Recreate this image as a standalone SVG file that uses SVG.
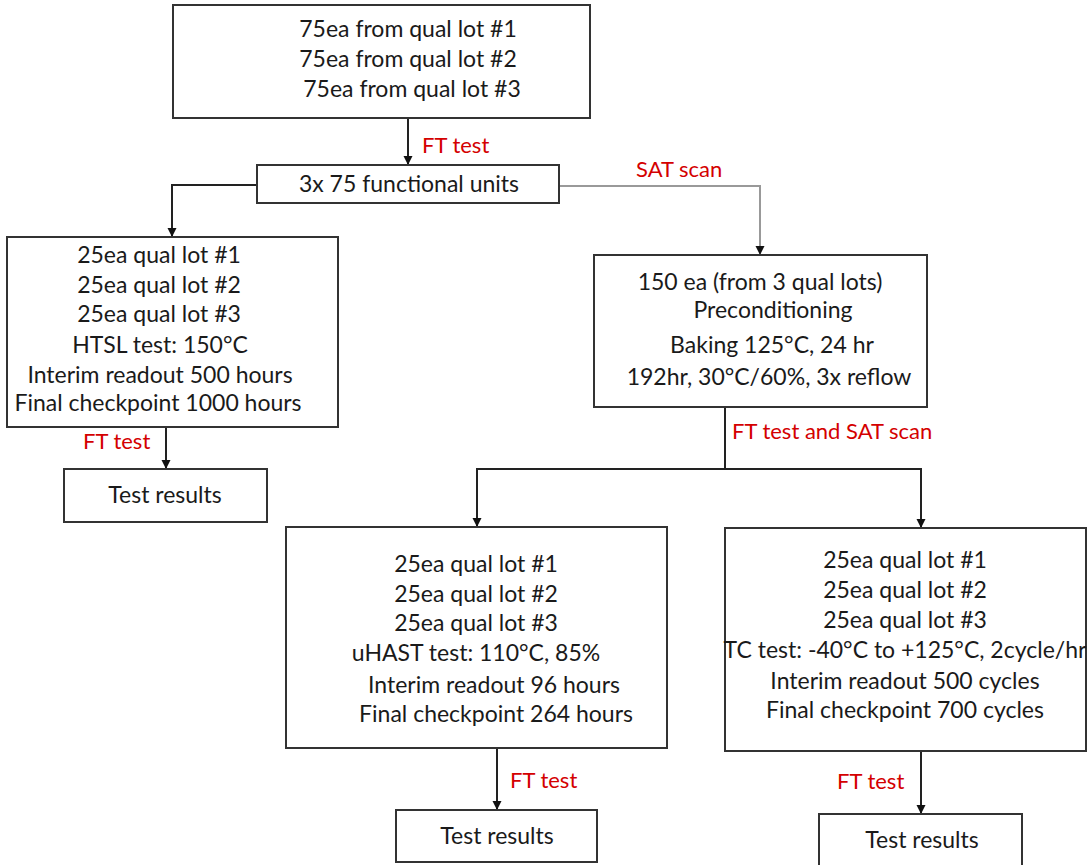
<svg xmlns="http://www.w3.org/2000/svg" width="1092" height="865" viewBox="0 0 1092 865">
<style>
.box{fill:#fff;stroke:#333;stroke-width:2}
.t{font-family:Lato,"Open Sans","Liberation Sans",sans-serif;font-size:23px;fill:#1a1a1a;text-anchor:middle}
.r{font-family:Lato,"Open Sans","Liberation Sans",sans-serif;font-size:22px;fill:#d40000}
.c{fill:none;stroke:#222;stroke-width:2}
.g{fill:none;stroke:#999;stroke-width:2}
</style>
<defs>
<marker id="ah" markerUnits="userSpaceOnUse" markerWidth="10" markerHeight="10" refX="9" refY="5" orient="auto">
<path d="M0,0.5 L9,5 L0,9.5 z" fill="#111"/>
</marker>
</defs>
<rect width="1092" height="865" fill="#fff"/>
<g id="connectors">
<path class="c" d="M408,118 V165" marker-end="url(#ah)"/>
<path class="c" d="M257,185 H172 V237" marker-end="url(#ah)"/>
<path class="g" d="M559,186 H760 V255" marker-end="url(#ah)"/>
<path class="c" d="M166,427 V469" marker-end="url(#ah)"/>
<path class="c" d="M725,407 V469"/>
<path class="c" d="M725,469 H477 V527" marker-end="url(#ah)"/>
<path class="c" d="M725,469 H921 V528" marker-end="url(#ah)"/>
<path class="c" d="M497,748 V810" marker-end="url(#ah)"/>
<path class="c" d="M921,751 V814" marker-end="url(#ah)"/>
<text class="r" x="422" y="153">FT test</text>
<text class="r" x="636" y="177">SAT scan</text>
<text class="r" x="83" y="449">FT test</text>
<text class="r" x="732" y="439">FT test and SAT scan</text>
<text class="r" x="510" y="788">FT test</text>
<text class="r" x="837" y="789">FT test</text>
</g>
<g id="n-top">
<rect class="box" x="173" y="5" width="417" height="113"/>
<text class="t" x="408" y="37">75ea from qual lot #1</text>
<text class="t" x="408" y="67">75ea from qual lot #2</text>
<text class="t" x="412" y="97">75ea from qual lot #3</text>
</g>
<g id="n-units">
<rect class="box" x="257" y="165" width="302" height="38"/>
<text class="t" x="409" y="192">3x 75 functional units</text>
</g>
<g id="n-htsl">
<rect class="box" x="7" y="237" width="331" height="190"/>
<text class="t" x="159" y="263">25ea qual lot #1</text>
<text class="t" x="159" y="293">25ea qual lot #2</text>
<text class="t" x="159" y="322">25ea qual lot #3</text>
<text class="t" x="160" y="353">HTSL test: 150°C</text>
<text class="t" x="160" y="383">Interim readout 500 hours</text>
<text class="t" x="158" y="411">Final checkpoint 1000 hours</text>
</g>
<g id="n-res1">
<rect class="box" x="64" y="469" width="203" height="53"/>
<text class="t" x="165" y="503">Test results</text>
</g>
<g id="n-precon">
<rect class="box" x="594" y="255" width="333" height="152"/>
<text class="t" x="760" y="290">150 ea (from 3 qual lots)</text>
<text class="t" x="773" y="318">Preconditioning</text>
<text class="t" x="772" y="353">Baking 125°C, 24 hr</text>
<text class="t" x="769" y="385">192hr, 30°C/60%, 3x reflow</text>
</g>
<g id="n-uhast">
<rect class="box" x="286" y="527" width="381" height="221"/>
<text class="t" x="476" y="572">25ea qual lot #1</text>
<text class="t" x="476" y="602">25ea qual lot #2</text>
<text class="t" x="476" y="631">25ea qual lot #3</text>
<text class="t" x="476" y="661">uHAST test: 110°C, 85%</text>
<text class="t" x="494" y="693">Interim readout 96 hours</text>
<text class="t" x="496" y="722">Final checkpoint 264 hours</text>
</g>
<g id="n-res2">
<rect class="box" x="396" y="810" width="201" height="52"/>
<text class="t" x="497" y="844">Test results</text>
</g>
<g id="n-tc">
<rect class="box" x="725" y="528" width="361" height="223"/>
<text class="t" x="905" y="568">25ea qual lot #1</text>
<text class="t" x="905" y="598">25ea qual lot #2</text>
<text class="t" x="905" y="628">25ea qual lot #3</text>
<text class="t" x="905" y="658">TC test: -40°C to +125°C, 2cycle/hr</text>
<text class="t" x="905" y="689">Interim readout 500 cycles</text>
<text class="t" x="905" y="718">Final checkpoint 700 cycles</text>
</g>
<g id="n-res3">
<rect class="box" x="819" y="814" width="203" height="60"/>
<text class="t" x="922" y="848">Test results</text>
</g>
</svg>
